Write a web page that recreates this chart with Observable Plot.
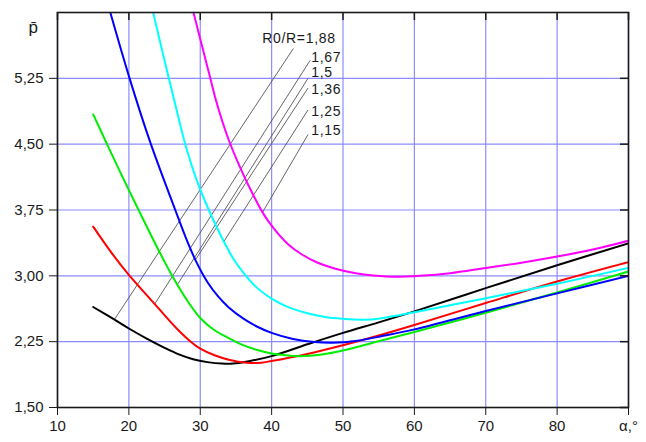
<!DOCTYPE html>
<html><head><meta charset="utf-8">
<script src="https://cdn.jsdelivr.net/npm/d3@7"></script>
<script src="https://cdn.jsdelivr.net/npm/@observablehq/plot@0.6"></script>
<style>
body{margin:0;background:#fff;}
#chart svg{display:block;}
</style></head><body><div id="chart"></div>
<script>
const xTicks = [10, 20, 30, 40, 50, 60, 70, 80, 90];
const yTicks = [1.5, 2.25, 3, 3.75, 4.5, 5.25];
const ratioLabels = ["R0/R=1,88", "1,67", "1,5", "1,36", "1,25", "1,15"];
const colors = ["#000000", "#ff0000", "#00ee00", "#0000ff", "#00ffff", "#ff00ff"];

const alpha188 = [15, 18, 20, 22.5, 25, 27, 29, 31, 33, 35, 37, 40, 45, 50, 55, 60, 70, 80, 90];
const p188     = [2.645, 2.50, 2.40, 2.285, 2.18, 2.105, 2.05, 2.017, 2.0, 2.005, 2.03, 2.085, 2.22, 2.35, 2.47, 2.595, 2.86, 3.12, 3.37];

const alpha167 = [15, 17.5, 20, 23.6, 26.7, 28.8, 30, 32, 34, 36.5, 38.5, 40, 45, 50, 55, 60, 70, 80, 90];
const p167     = [3.56, 3.27, 3.01, 2.68, 2.40, 2.24, 2.17, 2.095, 2.045, 2.01, 2.01, 2.03, 2.11, 2.21, 2.32, 2.44, 2.69, 2.935, 3.156];

const alpha150 = [15, 17, 19, 21, 23, 25, 26, 28, 30, 32, 34, 36, 38, 40, 42, 44, 47, 50, 55, 60, 70, 80, 90];
const p150     = [4.84, 4.49, 4.145, 3.81, 3.48, 3.16, 3.01, 2.74, 2.52, 2.38, 2.29, 2.21, 2.155, 2.115, 2.095, 2.085, 2.105, 2.15, 2.255, 2.36, 2.58, 2.81, 3.05];

const alpha136 = [17.4, 20.1, 23, 26.5, 28, 29.5, 31, 32.5, 34, 36, 38, 40, 43, 46, 48.5, 52, 55.2, 60, 70, 80, 90];
const p136     = [6.0, 5.25, 4.52, 3.75, 3.43, 3.15, 2.93, 2.765, 2.64, 2.515, 2.42, 2.35, 2.28, 2.245, 2.237, 2.26, 2.31, 2.39, 2.60, 2.80, 3.0];

const alpha125 = [23.4, 25.6, 27.05, 27.9, 29.5, 31.2, 33, 34.6, 36, 38, 40, 42, 44.9, 47.5, 50, 53, 55.2, 58, 60, 65, 70, 80, 90];
const p125     = [6.0, 5.25, 4.77, 4.50, 4.09, 3.75, 3.44, 3.20, 3.04, 2.86, 2.74, 2.655, 2.576, 2.53, 2.51, 2.50, 2.515, 2.555, 2.585, 2.665, 2.745, 2.91, 3.09];

const alpha115 = [29.05, 31.35, 32.2, 33.8, 35.5, 37.3, 38.9, 40.3, 42.3, 44.3, 46.3, 49.2, 51.8, 54.3, 57.5, 60.8, 65, 70, 75, 80, 85, 90];
const p115     = [6.0, 5.27, 5.0, 4.59, 4.25, 3.94, 3.70, 3.54, 3.36, 3.24, 3.155, 3.076, 3.03, 3.005, 2.99, 3.0, 3.03, 3.09, 3.15, 3.22, 3.30, 3.40];

// label positions and leader lines (data units)
const labelX = [38.67, 45.55, 45.55, 45.55, 45.55, 45.55];
const labelY = [5.705, 5.49, 5.32, 5.125, 4.875, 4.65];
const leadX1 = [43.05, 45.4, 45.1, 45.1, 45.1, 45.1];
const leadY1 = [5.59, 5.455, 5.25, 5.14, 4.89, 4.61];
const leadX2 = [17.95, 23.55, 26.8, 29.3, 33.3, 38.7];
const leadY2 = [2.50, 2.67, 2.90, 3.18, 3.39, 3.72];

const series = [[alpha188, p188], [alpha167, p167], [alpha150, p150], [alpha136, p136], [alpha125, p125], [alpha115, p115]];
const lineData = series.flatMap(([a, p], k) => a.map((v, j) => ({alpha: v, p: p[j], k})));
const idx = ratioLabels.map((d, i) => i);

const W = 646, H = 442, mt = 12, mb = 35, ml = 57, mr = 18;
const innerW = W - ml - mr, innerH = H - mt - mb;
const ink = "#1a1a1a";
const gridColor = "#8c8cff";

const chart = Plot.plot({
  width: W, height: H,
  marginTop: mt, marginBottom: mb, marginLeft: ml, marginRight: mr,
  style: {fontFamily: "'Liberation Sans', Arial, sans-serif", fontSize: "15px", color: ink, background: "#fff"},
  x: {domain: [10, 90], label: null},
  y: {domain: [1.5, 6], label: null},
  marks: [
    Plot.gridX({ticks: xTicks, stroke: gridColor, strokeOpacity: 1, strokeWidth: 1.2}),
    Plot.gridY({ticks: yTicks, stroke: gridColor, strokeOpacity: 1, strokeWidth: 1.2}),
    Plot.link(idx, {x1: i => leadX1[i], y1: i => leadY1[i], x2: i => leadX2[i], y2: i => leadY2[i], stroke: "#555", strokeWidth: 0.9}),
    Plot.line(lineData, {x: "alpha", y: "p", z: "k", stroke: d => colors[d.k], strokeWidth: 2, curve: "catmull-rom", clip: true}),
    Plot.text(idx, {x: i => labelX[i], y: i => labelY[i], text: i => ratioLabels[i], textAnchor: "start", fill: ink, fontSize: 14}),
    Plot.frame({stroke: ink, strokeWidth: 1.6}),
    Plot.axisX({ticks: xTicks, tickSize: 8, tickPadding: 5, stroke: ink, fill: ink, label: null,
      tickFormat: d => d === 90 ? "α,°" : String(d)}),
    Plot.axisY({ticks: yTicks, tickSize: 8, tickPadding: 6, stroke: ink, fill: ink, label: null,
      tickFormat: d => d.toFixed(2).replace(".", ",")}),
    Plot.tickX(xTicks, {x: d => d, insetBottom: innerH - 8, stroke: ink, strokeWidth: 1.5}),
    Plot.tickY(yTicks, {y: d => d, insetLeft: innerW - 8, stroke: ink, strokeWidth: 1.5}),
    Plot.text(["p\u0304"], {frameAnchor: "top-left", text: d => d, dx: -29, dy: 8, fontSize: 17, fill: ink})
  ]
});
// widen the ratio labels slightly, as in the reference
d3.select(chart).selectAll("g[aria-label='text']").filter((d, i) => i === 0)
  .selectAll("text").style("letter-spacing", "0.7px");
document.getElementById("chart").appendChild(chart);
</script>
</body></html>
